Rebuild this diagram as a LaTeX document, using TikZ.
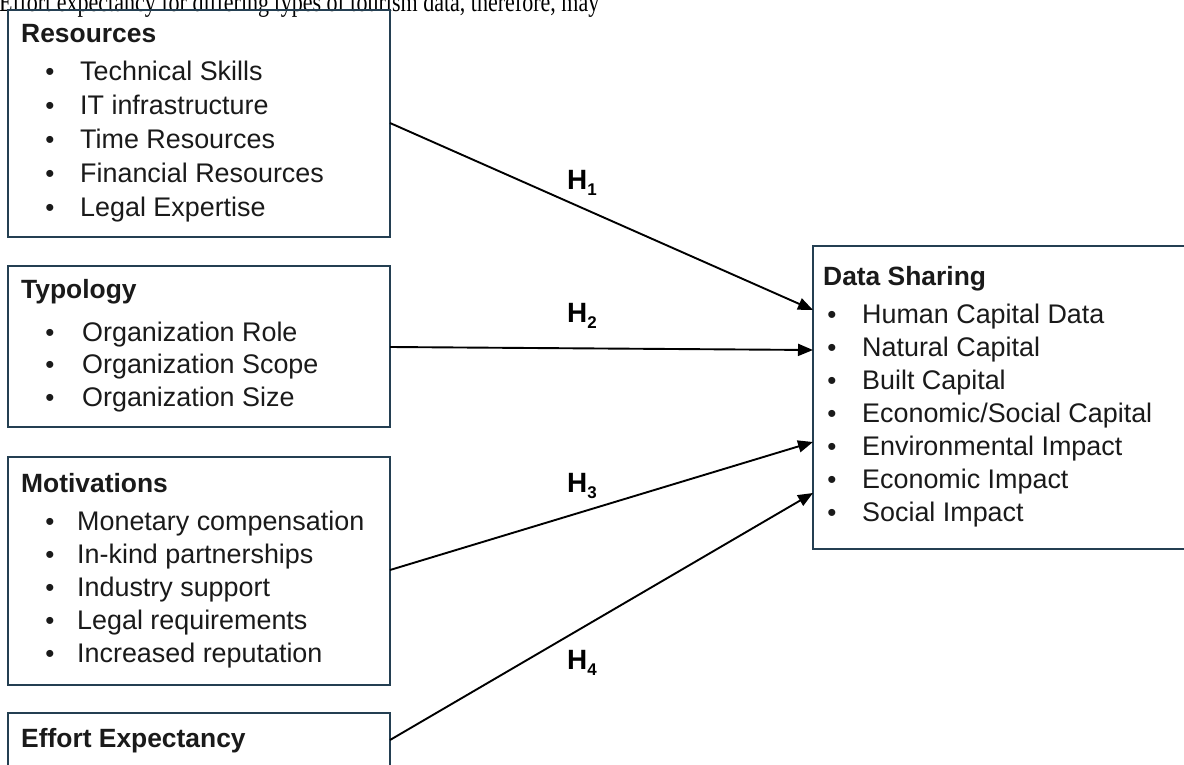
\documentclass[tikz,border=0pt]{standalone}
\usepackage{fontspec}
\setmainfont{Liberation Sans}
\newfontfamily\serifont{Liberation Serif}
\usetikzlibrary{arrows.meta,calc}
\definecolor{boxc}{HTML}{243F52}
\definecolor{txtc}{HTML}{1A1A1A}
\begin{document}
\begin{tikzpicture}[x=1bp,y=-1bp,
  box/.style={draw=boxc,line width=2bp,inner sep=0pt,outer sep=0pt,anchor=north west},
  ttl/.style={anchor=base west,inner sep=0pt,text=txtc,font=\fontsize{26.5}{30}\selectfont\bfseries},
  itm/.style={anchor=base west,inner sep=0pt,text=txtc,font=\fontsize{27}{30}\selectfont},
  bul/.style={anchor=base,inner sep=0pt,text=txtc,font=\fontsize{26}{30}\selectfont},
  hl/.style={inner sep=0pt,text=black,font=\fontsize{28}{32}\selectfont\bfseries},
  conn/.style={draw=black,line width=1.9bp,-{Triangle[length=15bp,width=12bp]}}]
\useasboundingbox (0,0) rectangle (1184,765);
\fill[white] (0,0) rectangle (1184,765);
\clip (0,0) rectangle (1184,765);

% top text line (cut by the top edge, as in the source)
\node[anchor=base west,inner sep=0pt,text=black] (toptext) at (-1,12)
  {\scalebox{1}[1.25]{\resizebox{600bp}{!}{\serifont\fontsize{20}{24}\selectfont Effort expectancy for differing types of tourism data, therefore, may}}};

% boxes
\node[box,minimum width=382bp,minimum height=227bp] (res) at (8,10) {};
\node[box,minimum width=382bp,minimum height=161bp] (typ) at (8,266) {};
\node[box,minimum width=382bp,minimum height=228bp] (mot) at (8,457) {};
\node[box,minimum width=382bp,minimum height=120bp] (eff) at (8,713) {};
\node[box,minimum width=390bp,minimum height=303bp] (ds) at (813,246) {};

% Resources
\node[ttl] (resT) at (21,43) {Resources};
\foreach \t [count=\i] in {Technical Skills,IT infrastructure,Time Resources,Financial Resources,Legal Expertise}{
  \node[bul] (resB\i) at (50,{81+33.8*(\i-1)}) {•};
  \node[itm] (resI\i) at (80,{81+33.8*(\i-1)}) {\t};
}

% Typology
\node[ttl] (typT) at (21,298) {Typology};
\foreach \t [count=\i] in {Organization Role,Organization Scope,Organization Size}{
  \node[bul] (typB\i) at (50,{341+32.8*(\i-1)}) {•};
  \node[itm] (typI\i) at (82,{341+32.8*(\i-1)}) {\t};
}

% Motivations
\node[ttl] (motT) at (21,492) {Motivations};
\foreach \t [count=\i] in {Monetary compensation,In-kind partnerships,Industry support,Legal requirements,Increased reputation}{
  \node[bul] (motB\i) at (50,{530+33.2*(\i-1)}) {•};
  \node[itm] (motI\i) at (77,{530+33.2*(\i-1)}) {\t};
}

% Effort Expectancy
\node[ttl] (effT) at (21,747) {Effort Expectancy};

% Data Sharing
\node[ttl] (dsT) at (823,285) {Data Sharing};
\foreach \t [count=\i] in {Human Capital Data,Natural Capital,Built Capital,Economic/Social Capital,Environmental Impact,Economic Impact,Social Impact}{
  \node[bul] (dsB\i) at (832,{323+33.1*(\i-1)}) {•};
  \node[itm] (dsI\i) at (862,{323+33.1*(\i-1)}) {\t};
}

% connector anchors
\path (res.north east) ++(0,113) coordinate (s1);
\path (typ.north east) ++(0,81) coordinate (s2);
\path (mot.north east) ++(0,113) coordinate (s3);
\path (eff.north east) ++(0,27) coordinate (s4);
\path (ds.north west) ++(0,64) coordinate (e1);
\path (ds.north west) ++(0,104) coordinate (e2);
\path (ds.north west) ++(0,196) coordinate (e3);
\path (ds.north west) ++(0,247) coordinate (e4);

\draw[conn] (s1) -- (e1);
\draw[conn] (s2) -- (e2);
\draw[conn] (s3) -- (e3);
\draw[conn] (s4) -- (e4);

% hypothesis labels
\newcommand{\hyp}[1]{H\raisebox{-6bp}{\fontsize{17}{20}\selectfont #1}}
\node[hl] (h1) at (582,183) {\hyp{1}};
\node[hl] (h2) at (582,316) {\hyp{2}};
\node[hl] (h3) at (582,486) {\hyp{3}};
\node[hl] (h4) at (582,663) {\hyp{4}};
\end{tikzpicture}
\end{document}
